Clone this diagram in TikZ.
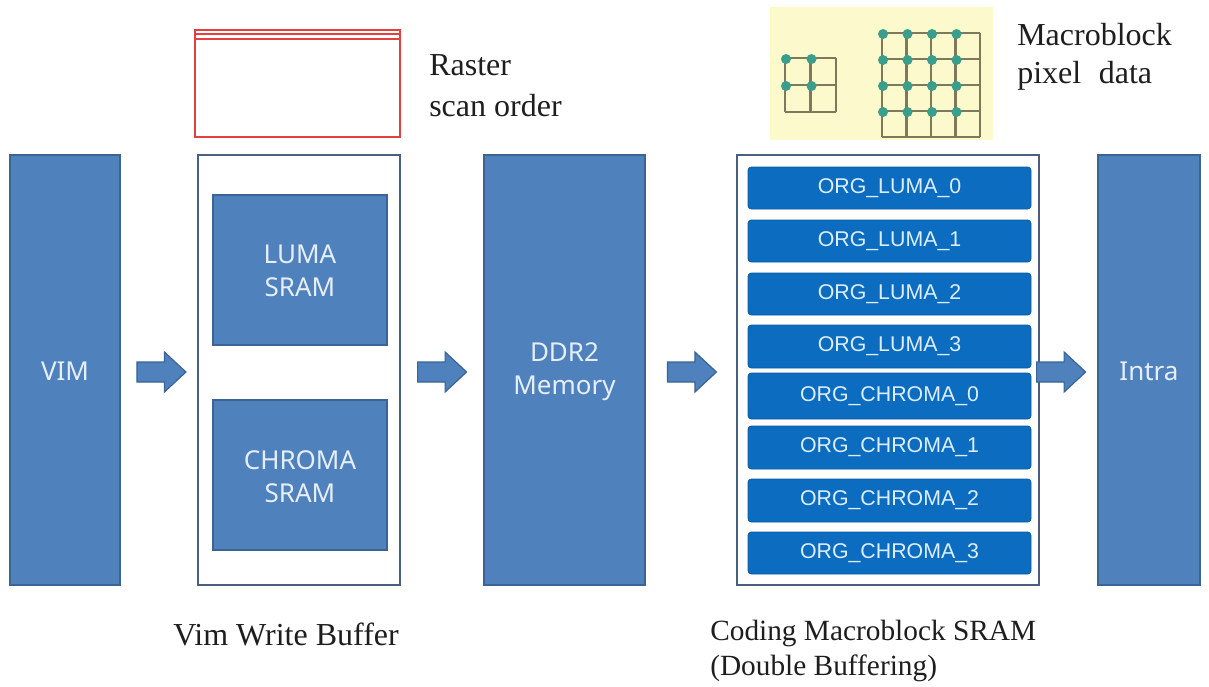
\documentclass[tikz,border=0pt]{standalone}
\usepackage{fontspec}
\setmainfont{Liberation Serif}
\newfontfamily\boxfont{Noto Sans}
\newfontfamily\orgfont{Liberation Sans}
\usetikzlibrary{fit,calc}

\definecolor{blockblue}{HTML}{4F81BD}
\definecolor{blockedge}{HTML}{3B6494}
\definecolor{blocktext}{HTML}{E6EEF8}
\definecolor{orgblue}{HTML}{0B6CC0}
\definecolor{orgedge}{HTML}{0A5AA2}
\definecolor{orgtext}{HTML}{DCEEFF}
\definecolor{frameedge}{HTML}{4A5E7E}
\definecolor{rasterred}{HTML}{E4403F}
\definecolor{padyellow}{HTML}{FCF9CC}
\definecolor{gridline}{HTML}{7C7A5A}
\definecolor{dotteal}{HTML}{3A9E8C}
\definecolor{captext}{HTML}{1E1E1E}

\tikzset{
  pics/flowarrow/.style={code={
    \filldraw[draw=blockedge, fill=blockblue, line width=0.9pt, line join=miter]
      (-24.5,-10) -- (3,-10) -- (3,-20) -- (24.5,0) -- (3,20) -- (3,10) -- (-24.5,10) -- cycle;
  }}
}

\begin{document}
\begin{tikzpicture}[x=0.75pt,y=-0.75pt,
  block/.style={draw=blockedge, line width=1.2pt, fill=blockblue, inner sep=0pt},
  blocklabel/.style={inner sep=0pt, text=blocktext, align=center,
    font=\boxfont\fontsize{19.5}{25}\selectfont},
  frame/.style={draw=frameedge, line width=1.5pt, fill=white, inner sep=0pt},
  orgbar/.style={draw=orgedge, line width=0.6pt, fill=orgblue, rounded corners=2.5pt, inner sep=0pt},
  orglabel/.style={inner sep=0pt, text=orgtext, font=\orgfont\fontsize{16}{19}\selectfont},
  caption/.style={anchor=base west, inner sep=0pt, text=captext,
    font=\fontsize{24}{30}\selectfont},
  pixgrid/.style={draw=gridline, line width=1.7pt},
  pixdot/.style={fill=dotteal}
]
\useasboundingbox (0,0) rectangle (1209,686);
\fill[white] (0,0) rectangle (1209,686);

% ---- main pipeline blocks
\node[block, fit={(10,155) (120,585)}] (vim) {};
\node[frame, fit={(198,155) (400,585)}] (wbuf) {};
\node[block, fit={(213,195) (387,345)}] (luma) {};
\node[block, fit={(213,400) (387,550)}] (chroma) {};
\node[block, fit={(484,155) (645,585)}] (ddr) {};
\node[frame, fit={(737,155) (1039,585)}] (mbsram) {};
\node[block, fit={(1098,155) (1200,585)}] (intra) {};

\node[blocklabel] (vimtxt) at ($(vim.center)+(0,1)$) {VIM};
\node[blocklabel] (lumatxt) at ($(luma.center)+(0,1)$) {LUMA\\SRAM};
\node[blocklabel] (chromatxt) at ($(chroma.center)+(0,2)$) {CHROMA\\SRAM};
\node[blocklabel] (ddrtxt) at ($(ddr.center)+(0,2)$) {DDR2\\Memory};
\node[blocklabel] (intratxt) at ($(intra.center)+(0,1)$) {Intra};

% ---- double-buffered macroblock SRAM banks
\node[orgbar, fit={(748,167) (1031,209)}] (l0) {};
\node[orgbar, fit={(748,220) (1031,262)}] (l1) {};
\node[orgbar, fit={(748,273) (1031,315)}] (l2) {};
\node[orgbar, fit={(748,325) (1031,368)}] (l3) {};
\node[orgbar, fit={(748,373) (1031,419)}] (c0) {};
\node[orgbar, fit={(748,426) (1031,469)}] (c1) {};
\node[orgbar, fit={(748,479) (1031,522)}] (c2) {};
\node[orgbar, fit={(748,532) (1031,574)}] (c3) {};
\foreach \b/\t in {l0/ORG\_LUMA\_0, l1/ORG\_LUMA\_1, l2/ORG\_LUMA\_2, l3/ORG\_LUMA\_3,
                   c0/ORG\_CHROMA\_0, c1/ORG\_CHROMA\_1, c2/ORG\_CHROMA\_2, c3/ORG\_CHROMA\_3}
  \node[orglabel] (\b txt) at (\b.center) {\t};

% ---- block arrows between stages
\coordinate (a1) at ($(vim.east)!0.5!(wbuf.west)+(2.5,2)$);
\coordinate (a2) at ($(wbuf.east)!0.5!(ddr.west)+(0,2)$);
\coordinate (a3) at ($(ddr.east)!0.5!(mbsram.west)+(1,2)$);
\coordinate (a4) at ($(mbsram.east)!0.5!(intra.west)+(-7.5,2)$);
\pic at (a1) {flowarrow};
\pic at (a2) {flowarrow};
\pic at (a3) {flowarrow};
\pic at (a4) {flowarrow};

% ---- raster scan order sketch
\node[draw=rasterred, line width=1.5pt, inner sep=0pt, fit={(195,29.5) (400,137)}] (raster) {};
\draw[rasterred, line width=1.2pt] (raster.north west |- 0,34) -- (raster.north east |- 0,34);
\draw[rasterred, line width=1.5pt] (raster.north west |- 0,39) -- (raster.north east |- 0,39);
\node[caption] (rastertxt1) at (429,75) {Raster};
\node[caption] (rastertxt2) at (429,116) {scan order};

% ---- macroblock pixel data sketch
\node[fill=padyellow, inner sep=0pt, fit={(770,7) (993,140)}] (pad) {};
% 2x2 block
\foreach \k in {0,1,2} {
  \draw[pixgrid] (785+25.5*\k,58) -- (785+25.5*\k,112);
  \draw[pixgrid] (785,58+27*\k) -- (836,58+27*\k);
}
\foreach \i in {0,1} \foreach \j in {0,1}
  \fill[pixdot] (785+25.5*\i+1,58+27*\j+1) circle[radius=5];
% 4x4 block
\foreach \k in {0,...,4} {
  \draw[pixgrid] (882+24.5*\k,33) -- (882+24.5*\k,137);
  \draw[pixgrid] (882,33+26*\k) -- (980,33+26*\k);
}
\foreach \i in {0,...,3} \foreach \j in {0,...,3}
  \fill[pixdot] (882+24.5*\i+1,33+26*\j+1) circle[radius=5];
\node[caption] (mbtxt1) at (1017,45) {Macroblock};
\node[caption] (mbtxt2) at (1017,83) {pixel\hspace{0.3em} data};

% ---- captions
\node[caption] (wbufcap) at (173,645) {Vim Write Buffer};
\node[caption, font=\fontsize{22}{28}\selectfont] (mbcap1) at (710,640) {Coding Macroblock SRAM};
\node[caption, font=\fontsize{22}{28}\selectfont] (mbcap2) at (710,675) {(Double Buffering)};
\end{tikzpicture}
\end{document}
